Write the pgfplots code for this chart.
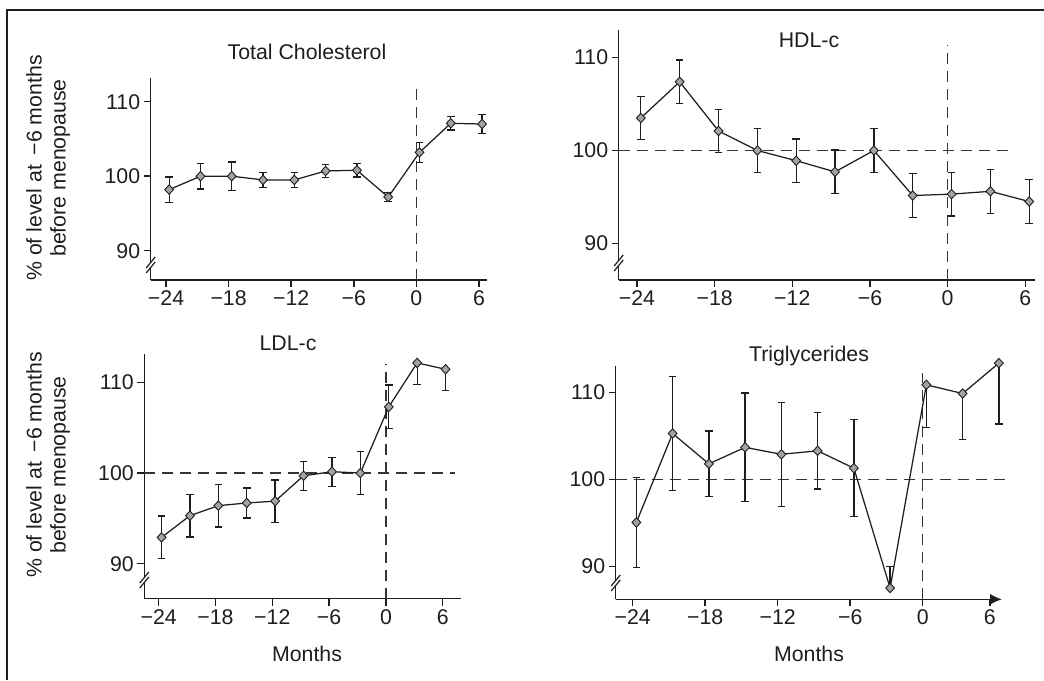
\documentclass[border=0pt]{standalone}
\usepackage{pgfplots}
\pgfplotsset{compat=1.18}
\usepackage{fontspec}
\setmainfont{Liberation Sans}
\usetikzlibrary{arrows.meta}

\definecolor{ink}{HTML}{1E1E1E}
\definecolor{mk}{HTML}{A3A3A3}
\newcommand\fs{\fontsize{21.3}{25}\selectfont}

\tikzset{refline/.style={ink!90, line width=1.2pt, dash pattern=on 11pt off 7pt}}

\pgfplotsset{
  panel/.style={
    scale only axis, anchor=south west, clip=false,
    axis lines=left, axis line style={-, line width=1.5pt, ink},
    tick align=outside, major tick length=7pt,
    tick style={line width=1.5pt, ink},
    xtick={-24,-18,-12,-6,0,6},
    xticklabels={−24,−18,−12,−6,0,6},
    ytick={90,100,110}, yticklabels={90,100,110},
    ticklabel style={font=\fs, text=ink},
  },
  bars/.style={draw=none, mark=none, forget plot,
    error bars/y explicit, error bars/y dir=#1,
    error bars/error bar style={draw=ink, line width=1.3pt, solid},
    error bars/error mark options={rotate=90, mark size=3.8pt, line width=1.3pt, draw=ink}},
  series/.style={ink, line width=1.25pt, mark=diamond*, mark size=4.7pt,
    mark options={xscale=1.25, fill=mk, draw=ink, line width=0.9pt, solid}},
}

% axis break mark
\newcommand\brk[2]{%
  \fill[white] (#1pt-2.5pt,#2pt-2.5pt) rectangle (#1pt+2.5pt,#2pt+2.5pt);
  \draw[ink, line width=1.2pt] (#1pt-4.5pt,#2pt-8pt) -- (#1pt+4.5pt,#2pt+3pt);
  \draw[ink, line width=1.2pt] (#1pt-4.5pt,#2pt-3pt) -- (#1pt+4.5pt,#2pt+8pt);
}

\begin{document}
\begin{tikzpicture}
\useasboundingbox (0pt,0pt) rectangle (1044pt,680pt);
\draw[line width=1.5pt, ink] (7pt,0pt) -- (7pt,670pt) -- (1044pt,670pt);

% ---- Total cholesterol
\begin{axis}[panel, at={(150.7pt,400pt)}, width=336.3pt, height=202pt,
  xmin=-25.47, xmax=6.77, ymin=86.07, ymax=113.18]
\draw[refline] (axis cs:0,86.07) -- (axis cs:0,112.3);
\addplot[bars=both] coordinates {
 (-23.7,98.2) +- (0,1.7) (-20.7,100.0) +- (0,1.7) (-17.7,100.0) +- (0,1.9)
 (-14.7,99.5) +- (0,1.0) (-11.7,99.5) +- (0,1.0) (-8.7,100.7) +- (0,0.9)
 (-5.7,100.8) +- (0,0.9) (-2.7,97.2) +- (0,0.6) (0.3,103.2) +- (0,1.35)
 (3.3,107.1) +- (0,0.9) (6.3,107.0) +- (0,1.3)};
\addplot[series] coordinates {
 (-23.7,98.2) (-20.7,100.0) (-17.7,100.0) (-14.7,99.5) (-11.7,99.5) (-8.7,100.7)
 (-5.7,100.8) (-2.7,97.2) (0.3,103.2) (3.3,107.1) (6.3,107.0)};
\end{axis}

% ---- HDL-c
\begin{axis}[panel, at={(618.7pt,400pt)}, width=416.6pt, height=250pt,
  xmin=-25.41, xmax=6.77, ymin=86.05, ymax=112.98]
\draw[refline] (axis cs:-25.41,100) -- (axis cs:4.9,100);
\draw[refline] (axis cs:0,86.05) -- (axis cs:0,111.4);
\addplot[bars=both] coordinates {
 (-23.7,103.5) +- (0,2.35) (-20.7,107.4) +- (0,2.35) (-17.7,102.1) +- (0,2.35)
 (-14.7,100.0) +- (0,2.35) (-11.7,98.9) +- (0,2.35) (-8.7,97.7) +- (0,2.35)
 (-5.7,100.0) +- (0,2.35) (-2.7,95.15) +- (0,2.35) (0.3,95.3) +- (0,2.35)
 (3.3,95.6) +- (0,2.35) (6.3,94.5) +- (0,2.35)};
\addplot[series] coordinates {
 (-23.7,103.5) (-20.7,107.4) (-17.7,102.1) (-14.7,100.0) (-11.7,98.9) (-8.7,97.7)
 (-5.7,100.0) (-2.7,95.15) (0.3,95.3) (3.3,95.6) (6.3,94.5)};
\end{axis}

% ---- LDL-c
\begin{axis}[panel, at={(144.3pt,81.3pt)}, width=316.7pt, height=244.4pt,
  xmin=-25.52, xmax=7.93, ymin=86.14, ymax=113.1]
\draw[refline] (axis cs:-25.52,100) -- (axis cs:7.3,100);
\draw[refline] (axis cs:0,86.14) -- (axis cs:0,112.0);
\addplot[bars=both] coordinates {
 (-23.7,92.9) +- (0,2.35) (-20.7,95.3) +- (0,2.35) (-17.7,96.4) +- (0,2.35)
 (-14.7,96.7) +- (0,1.65) (-11.7,96.9) +- (0,2.35) (-8.7,99.7) +- (0,1.6)
 (-5.7,100.15) +- (0,1.6) (-2.7,100.0) +- (0,2.35) (0.3,107.3) +- (0,2.4)};
\addplot[bars=minus] coordinates {
 (3.3,112.15) -= (0,2.35) (6.3,111.45) -= (0,2.35)};
\addplot[series] coordinates {
 (-23.7,92.9) (-20.7,95.3) (-17.7,96.4) (-14.7,96.7) (-11.7,96.9) (-8.7,99.7)
 (-5.7,100.15) (-2.7,100.0) (0.3,107.3) (3.3,112.15) (6.3,111.45)};
\end{axis}

% ---- Triglycerides
\begin{axis}[panel, at={(615.7pt,80.7pt)}, width=386.3pt, height=233.3pt,
  xmin=-25.41, xmax=6.56, ymin=86.2, ymax=113.07,
  xtick={-24,-18,-12,-6,0,5.55},
  x axis line style={-{Latex[length=12pt,width=11pt]}}]
\draw[refline] (axis cs:-25.41,100) -- (axis cs:7.2,100);
\draw[refline] (axis cs:0,86.2) -- (axis cs:0,112.3);
\addplot[bars=both] coordinates {
 (-23.7,95.05) +- (0,5.2) (-20.7,105.3) +- (0,6.55) (-17.7,101.8) +- (0,3.8)
 (-14.7,103.7) +- (0,6.25) (-11.7,102.9) +- (0,6.0) (-8.7,103.3) +- (0,4.4)
 (-5.7,101.3) +- (0,5.6)};
\addplot[bars=plus] coordinates {(-2.7,87.5) += (0,2.5)};
\addplot[bars=minus] coordinates {
 (0.3,110.9) -= (0,4.9) (3.3,109.9) -= (0,5.3) (6.3,113.4) -= (0,7.0)};
\addplot[series] coordinates {
 (-23.7,95.05) (-20.7,105.3) (-17.7,101.8) (-14.7,103.7) (-11.7,102.9) (-8.7,103.3)
 (-5.7,101.3) (-2.7,87.5) (0.3,110.9) (3.3,109.9) (6.3,113.4)};
\end{axis}

\brk{150.7}{415}
\brk{618.7}{417}
\brk{144.3}{100}
\brk{615.7}{97}

% titles and labels
\node[anchor=base, font=\fs, text=ink] at (307pt,620pt) {Total Cholesterol};
\node[anchor=base, font=\fs, text=ink] at (809pt,632.7pt) {HDL-c};
\node[anchor=base, font=\fs, text=ink] at (288pt,329.3pt) {LDL-c};
\node[anchor=base, font=\fs, text=ink] at (809pt,318.3pt) {Triglycerides};
\node[anchor=base, font=\fs, text=ink] at (307pt,18.3pt) {Months};
\node[anchor=base, font=\fs, text=ink] at (809pt,18.3pt) {Months};
\node[anchor=base, rotate=90, font=\fs, text=ink] at (41.7pt,512pt) {\% of level at \,−6 months};
\node[anchor=base, rotate=90, font=\fs, text=ink] at (65.5pt,512pt) {before menopause};
\node[anchor=base, rotate=90, font=\fs, text=ink] at (41.7pt,215pt) {\% of level at \,−6 months};
\node[anchor=base, rotate=90, font=\fs, text=ink] at (65.5pt,215pt) {before menopause};
\end{tikzpicture}
\end{document}
